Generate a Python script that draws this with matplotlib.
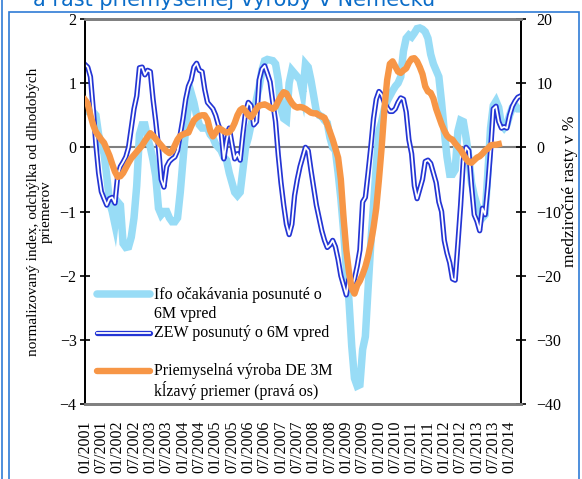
import matplotlib
matplotlib.use("Agg")
import matplotlib.pyplot as plt
from matplotlib.patches import Rectangle
from matplotlib.lines import Line2D
import numpy as np

# ---------------- data (monthly, 01/2001 onwards) ----------------
tick_labels = ["01/2001", "07/2001", "01/2002", "07/2002", "01/2003", "07/2003",
               "01/2004", "07/2004", "01/2005", "07/2005", "01/2006", "07/2006",
               "01/2007", "07/2007", "01/2008", "07/2008", "01/2009", "07/2009",
               "01/2010", "07/2010", "01/2011", "07/2011", "01/2012", "07/2012",
               "01/2013", "07/2013", "01/2014"]

ifo = [0.56, 0.56, 0.55, 0.55, 0.5, 0.2, 0.05, -0.1, -0.45, -0.85,
       -1.0, -1.2, -0.85, -0.9, -1.5, -1.56, -1.55, -1.4, -1.1, -0.6,
       0.2, 0.35, 0.35, 0.15, 0.0, -0.2, -0.45, -0.95, -1.05, -1.0,
       -1.0, -1.1, -1.16, -1.16, -1.1, -0.7, -0.2, 0.3, 0.65, 0.85,
       0.7, 0.5, 0.35, 0.3, 0.3, 0.3, 0.2, 0.15, 0.05, 0.0,
       -0.05, -0.15, -0.2, -0.4, -0.55, -0.7, -0.75, -0.7, -0.35, 0.0,
       0.15, 0.35, 0.5, 0.75, 0.95, 1.2, 1.35, 1.37, 1.36, 1.35,
       1.3, 1.05, 0.6, 0.45, 0.42, 1.0, 1.2, 1.15, 1.1, 1.05,
       0.85, 1.3, 1.25, 1.05, 0.8, 0.56, 0.5, 0.48, 0.42, 0.38,
       0.15, 0.0, -0.05, -0.4, -0.8, -1.3, -1.9, -2.4, -3.1, -3.6,
       -3.72, -3.7, -3.15, -2.95, -2.2, -1.5, -0.9, -0.3, 0.25, 0.4,
       0.6, 0.72, 0.8, 0.88, 0.95, 1.0, 1.1, 1.5, 1.7, 1.75,
       1.72, 1.78, 1.85, 1.86, 1.84, 1.8, 1.7, 1.45, 1.3, 1.2,
       1.1, 0.7, 0.25, -0.15, -0.42, -0.42, -0.35, 0.25, 0.42, 0.4,
       0.15, -0.15, -0.55, -0.75, -0.9, -0.98, -1.1, -1.05, -0.4, 0.3,
       0.65, 0.72, 0.62, 0.35, 0.3, 0.35, 0.5, 0.62, 0.66, 0.6,
       0.6]

zew = [1.29, 1.25, 1.1, 0.6, 0.05, -0.4, -0.69, -0.8, -0.9, -0.8,
       -0.78, -0.87, -0.45, -0.3, -0.23, -0.15, 0.0, 0.3, 0.6, 0.8,
       1.24, 1.25, 1.13, 1.2, 1.18, 0.75, 0.4, 0.0, -0.5, -0.62,
       -0.3, -0.22, -0.18, -0.15, -0.05, 0.2, 0.45, 0.75, 0.95, 1.05,
       1.25, 1.31, 1.2, 1.18, 0.9, 0.7, 0.65, 0.6, 0.5, 0.35,
       0.25, -0.18, 0.1, 0.3, 0.05, -0.18, -0.1, -0.2, 0.2, 0.55,
       0.7, 0.65, 0.35, 0.4, 1.05, 1.22, 1.27, 1.15, 1.02, 0.7,
       0.4, -0.12, -0.55, -0.9, -1.2, -1.36, -1.2, -0.75, -0.5, -0.3,
       -0.15, 0.0, -0.05, -0.35, -0.63, -0.9, -1.1, -1.3, -1.45, -1.56,
       -1.52, -1.45, -1.55, -1.75, -2.0, -2.15, -2.3, -2.05, -2.2, -2.05,
       -1.85, -1.6, -0.85, -0.78, -0.4, 0.0, 0.45, 0.75, 0.87, 0.82,
       0.7, 0.62, 0.56, 0.56, 0.6, 0.7, 0.77, 0.75, 0.55, 0.12,
       -0.1, -0.6, -0.8, -0.65, -0.5, -0.22, -0.2, -0.25, -0.4, -0.55,
       -0.85, -1.0, -1.45, -1.65, -1.8, -2.05, -2.07, -1.5, -0.9, -0.2,
       0.0, -0.05, -0.6, -1.05, -1.15, -1.3, -0.95, -1.05, -0.6, -0.05,
       0.6, 0.64, 0.4, 0.3, 0.32, 0.3, 0.5, 0.64, 0.72, 0.78,
       0.8]

ip = [7.4, 6.8, 5.0, 3.5, 2.4, 1.8, 1.2, 0.7, -0.3, -1.3,
      -2.6, -3.8, -4.6, -4.5, -4.0, -3.2, -2.4, -1.7, -1.2, -0.7,
      -0.2, 0.3, 1.0, 1.6, 2.2, 1.8, 1.3, 0.8, 0.3, -0.2,
      -0.6, -0.9, -0.6, 0.3, 1.2, 1.8, 2.0, 2.2, 2.3, 3.3,
      4.2, 4.6, 4.9, 5.0, 5.0, 4.3, 2.6, 1.7, 2.3, 3.0,
      2.8, 2.5, 2.3, 2.4, 2.9, 3.8, 5.0, 5.8, 6.1, 5.6,
      5.0, 4.7, 5.3, 6.0, 6.5, 6.6, 6.7, 6.5, 6.2, 6.0,
      6.3, 7.2, 8.0, 8.6, 8.4, 7.6, 6.9, 6.4, 6.2, 6.3,
      6.2, 6.0, 5.7, 5.4, 5.3, 5.3, 5.0, 4.8, 4.6, 3.6,
      2.4, 1.2, -0.2, -1.6, -5.0, -11.0, -16.0, -19.5, -22.0, -22.8,
      -21.5, -20.8, -19.8, -18.6, -17.0, -15.0, -12.5, -9.5, -5.0, 0.0,
      6.0, 10.5, 13.0, 13.4, 12.6, 11.8, 11.6, 12.0, 12.3, 13.2,
      13.8, 13.9, 13.4, 12.5, 11.4, 9.5, 8.7, 8.5, 7.6, 6.0,
      4.8, 3.6, 2.6, 1.8, 1.4, 1.2, 0.6, 0.1, -0.4, -1.1,
      -1.8, -2.3, -2.4, -2.0, -1.6, -1.4, -1.0, -0.5, -0.2, 0.3,
      0.4, 0.4, 0.5]

label_ifo = "Ifo očakávania posunuté o\n6M vpred"
label_zew = "ZEW posunutý o 6M vpred"
label_ip = "Priemyselná výroba DE 3M\nkĺzavý priemer (pravá os)"
title_text = "a rast priemyselnej výroby v Nemecku"

# ---------------- styling ----------------
W, H = 582, 479
fig = plt.figure(figsize=(W / 100, H / 100), dpi=100)
serif = ["Liberation Serif", "DejaVu Serif"]

c_ifo = "#98dcf6"
c_zew = "#2435d4"
c_ip = "#f79646"
c_frame = "#2f7bd6"

L, R, T, B = 85, 520.5, 19, 404
ax = fig.add_axes([L / W, 1 - B / H, (R - L) / W, (B - T) / H])
ax2 = ax.twinx()

x_ifo = np.arange(len(ifo))
x_zew = np.arange(len(zew))
x_ip = np.arange(len(ip))

ax.plot(x_ifo, ifo, color=c_ifo, lw=5.4, solid_joinstyle="miter", zorder=2)
ax.plot(x_zew, zew, color=c_zew, lw=3.8, zorder=3)
ax.plot(x_zew, zew, color="white", lw=1.3, zorder=4)
ax.axhline(0, color="#7f7f7f", lw=1.5, zorder=1)
ax2.plot(x_ip, ip, color=c_ip, lw=4.6, zorder=5)

ax.set_xlim(0, 160)
ax.set_ylim(-4, 2)
ax2.set_ylim(-40, 20)
ax.set_yticks(np.arange(-4, 3, 1))
ax2.set_yticks(np.arange(-40, 21, 10))
ax.set_xticks(np.arange(0, 6 * len(tick_labels), 6))
ax.set_xticklabels(tick_labels, rotation=90, fontfamily=serif, fontsize=11.5)
ax.tick_params(axis="x", length=0, pad=12)
ax.tick_params(axis="y", direction="inout", length=7, width=1.2, labelsize=11.5, pad=2.5)
ax2.tick_params(axis="y", direction="inout", length=7, width=1.2, labelsize=11.5, pad=8)
for lab in ax.get_yticklabels() + ax2.get_yticklabels():
    lab.set_fontfamily(serif)

for a in (ax, ax2):
    a.spines["top"].set_color("#808080")
    a.spines["top"].set_linewidth(2)
    a.spines["bottom"].set_color("#808080")
    a.spines["bottom"].set_linewidth(2)
    a.spines["left"].set_color("black")
    a.spines["left"].set_linewidth(1.3)
    a.spines["right"].set_color("black")
    a.spines["right"].set_linewidth(1.3)

ax.set_ylabel("normalizovaný index, odchýlka od dlhodobých\npriemerov",
              fontfamily=serif, fontsize=11, linespacing=1.0)
ax.yaxis.set_label_coords((53 - L) / (R - L), 0.5)
ax2.set_ylabel("medziročné rasty v %", fontfamily=serif, fontsize=12.5)
ax2.yaxis.set_label_coords((562 - L) / (R - L), (B - 191) / (B - T))

# ---------------- legend (drawn in axes fraction) ----------------
def ax_x(px):
    return (px - L) / (R - L)

def ax_y(py):
    return (B - py) / (B - T)

hx0, hx1, tx = ax_x(97), ax_x(150), ax_x(154)
fs_leg = 11.5
for y_h, col, lw in [(294, c_ifo, 5.4), (333, c_zew, 3.8), (371, c_ip, 4.6)]:
    ax2.add_line(Line2D([hx0, hx1], [ax_y(y_h)] * 2, color=col, lw=lw,
                        transform=ax2.transAxes, solid_capstyle="round", zorder=6))
ax2.add_line(Line2D([hx0, hx1], [ax_y(333)] * 2, color="white", lw=1.3,
                    transform=ax2.transAxes, zorder=7))
for lines, ys in [(label_ifo.split("\n"), [295, 314]),
                  (label_zew.split("\n"), [333]),
                  (label_ip.split("\n"), [371, 390])]:
    for s, yy in zip(lines, ys):
        ax2.text(tx, ax_y(yy), s, transform=ax2.transAxes, fontfamily=serif,
                 fontsize=fs_leg, va="center", ha="left", zorder=8)

# ---------------- frame and cut title ----------------
fig.patches.append(Rectangle((9 / W, -0.05), 570 / W, 1.05 - 12 / H, transform=fig.transFigure,
                             fill=False, edgecolor=c_frame, lw=1.2))
fig.add_artist(Line2D([1.5 / W, 1.5 / W], [0, 1], transform=fig.transFigure,
                      color=c_frame, lw=1.2))
fig.text(33 / W, 1 - 6.5 / H, title_text, color="#0a6cc8", fontsize=15,
         fontfamily="DejaVu Sans", va="baseline", ha="left")

fig.savefig("out.png", dpi=100)
